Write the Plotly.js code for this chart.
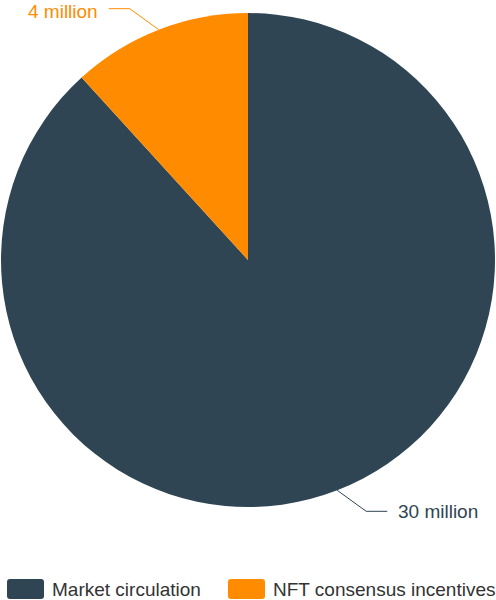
<!DOCTYPE html>
<html>
<head>
<meta charset="utf-8">
<script src="https://cdn.plot.ly/plotly-3.0.1.min.js"></script>
<style>html,body{margin:0;padding:0;background:#fff;}#chart{width:496px;height:600px;}</style>
</head>
<body>
<div id="chart"></div>
<script>
// ---- data ----
var categories = ["Market circulation", "NFT consensus incentives"];
var values = [30, 4];            // millions
var valueLabels = ["30 million", "4 million"];
var colors = ["#2f4554", "#ff8c00"];

// ---- layout constants ----
var W = 496, H = 600;
var FONT = "Liberation Sans, Arial, sans-serif";
var FS = 19;
var pieTop = 13, pieBottom = 507, pieLeft = 1, pieRight = 495;
var leg1 = [29, 21], leg2 = 21, textGap = 10;
var legendX = [7, 228], legendY = 589, swW = 37, swH = 20;
var labelHalf = FS * 0.6; // keep label boxes inside the page

function px(x) { return x / W; }
function py(y) { return 1 - y / H; }

var domain = { x: [px(pieLeft), px(pieRight)], y: [py(pieBottom), py(pieTop)] };
var cx = (pieLeft + pieRight) / 2, cy = (pieTop + pieBottom) / 2;
var R = Math.min(pieRight - pieLeft, pieBottom - pieTop) / 2;

var total = values.reduce(function (a, b) { return a + b; }, 0);
var shapes = [], annotations = [];
var cum = 0;
values.forEach(function (v, i) {
  var theta = 2 * Math.PI * (cum + v / 2) / total; // clockwise from 12 o'clock
  cum += v;
  var sx = Math.sin(theta), cyv = -Math.cos(theta);
  var ex = cx + R * sx, ey = cy + R * cyv;
  var side = sx >= 0 ? 1 : -1, vert = cyv >= 0 ? 1 : -1;
  var bx = ex + side * leg1[0], by = ey + vert * leg1[1];
  var fx = bx + side * leg2;
  shapes.push({
    type: "path", xref: "paper", yref: "paper",
    path: "M" + px(ex) + "," + py(ey) + " L" + px(bx) + "," + py(by) + " L" + px(fx) + "," + py(by),
    line: { color: colors[i], width: 1 }
  });
  var ty = Math.min(Math.max(by, labelHalf), H - labelHalf);
  annotations.push({
    xref: "paper", yref: "paper", showarrow: false, borderpad: 0,
    x: px(fx + side * textGap), y: py(ty),
    xanchor: side > 0 ? "left" : "right", yanchor: "middle",
    text: valueLabels[i], font: { family: FONT, size: FS, color: colors[i] }
  });
});

// legend (custom, ECharts-style swatches)
function rrect(x0, y0, x1, y1, r) {
  return "M" + px(x0 + r) + "," + py(y0) +
    " L" + px(x1 - r) + "," + py(y0) + " Q" + px(x1) + "," + py(y0) + " " + px(x1) + "," + py(y0 + r) +
    " L" + px(x1) + "," + py(y1 - r) + " Q" + px(x1) + "," + py(y1) + " " + px(x1 - r) + "," + py(y1) +
    " L" + px(x0 + r) + "," + py(y1) + " Q" + px(x0) + "," + py(y1) + " " + px(x0) + "," + py(y1 - r) +
    " L" + px(x0) + "," + py(y0 + r) + " Q" + px(x0) + "," + py(y0) + " " + px(x0 + r) + "," + py(y0) + " Z";
}
categories.forEach(function (c, i) {
  var x0 = legendX[i];
  shapes.push({
    type: "path", xref: "paper", yref: "paper",
    path: rrect(x0, legendY - swH / 2, x0 + swW, legendY + swH / 2, 3),
    fillcolor: colors[i], line: { width: 0 }
  });
  annotations.push({
    xref: "paper", yref: "paper", showarrow: false, borderpad: 0,
    x: px(x0 + swW + 7), y: py(legendY), xanchor: "left", yanchor: "middle",
    text: c, font: { family: FONT, size: FS, color: "#333" }
  });
});

var trace = {
  type: "pie",
  labels: categories,
  values: values,
  marker: { colors: colors, line: { width: 0 } },
  sort: false,
  direction: "clockwise",
  rotation: 0,
  textinfo: "none",
  hoverinfo: "label+value+percent",
  domain: domain
};

var layout = {
  width: W, height: H,
  margin: { l: 0, r: 0, t: 0, b: 0 },
  paper_bgcolor: "#fff",
  showlegend: false,
  font: { family: FONT },
  shapes: shapes,
  annotations: annotations
};

Plotly.newPlot("chart", [trace], layout, { displayModeBar: false, staticPlot: true });
</script>
</body>
</html>
